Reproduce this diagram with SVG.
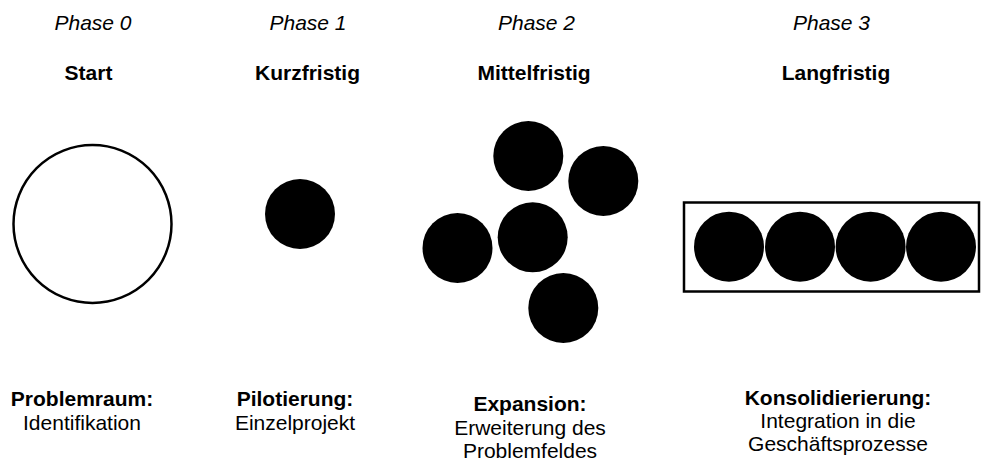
<svg xmlns="http://www.w3.org/2000/svg" width="982" height="461" viewBox="0 0 982 461">
<style>
text{font-family:"Liberation Sans",Arial,sans-serif;font-size:21px;fill:#000;text-anchor:middle}
.ph{font-style:italic}
.b{font-weight:bold}
.dot{fill:#000}
</style>
<rect width="982" height="461" fill="#fff"/>
<g id="phase0">
<text class="ph" x="93" y="30">Phase 0</text>
<text class="b" x="88.5" y="80">Start</text>
<circle cx="92.5" cy="224" r="79" fill="none" stroke="#000" stroke-width="2.5"/>
<text class="b" x="82" y="406">Problemraum:</text>
<text x="82" y="430">Identifikation</text>
</g>
<g id="phase1">
<text class="ph" x="308" y="30">Phase 1</text>
<text class="b" x="307.5" y="80">Kurzfristig</text>
<circle class="dot" cx="300" cy="214" r="35"/>
<text class="b" x="295" y="406">Pilotierung:</text>
<text x="295" y="430">Einzelprojekt</text>
</g>
<g id="phase2">
<text class="ph" x="536.5" y="30">Phase 2</text>
<text class="b" x="534" y="80">Mittelfristig</text>
<circle class="dot" cx="528.3" cy="156" r="35"/>
<circle class="dot" cx="603.3" cy="181" r="35"/>
<circle class="dot" cx="457.5" cy="248" r="35"/>
<circle class="dot" cx="532.7" cy="237.3" r="35"/>
<circle class="dot" cx="563.3" cy="308" r="35"/>
<text class="b" x="530" y="411">Expansion:</text>
<text x="530" y="435">Erweiterung des</text>
<text x="530" y="458">Problemfeldes</text>
</g>
<g id="phase3">
<text class="ph" x="831.5" y="30">Phase 3</text>
<text class="b" x="836" y="80">Langfristig</text>
<rect x="684" y="202.5" width="295" height="89" fill="none" stroke="#000" stroke-width="2.5"/>
<circle class="dot" cx="729" cy="246.7" r="35"/>
<circle class="dot" cx="800" cy="246.7" r="35"/>
<circle class="dot" cx="870.6" cy="246.7" r="35"/>
<circle class="dot" cx="941" cy="246.7" r="35"/>
<text class="b" x="838" y="405">Konsolidierierung:</text>
<text x="838" y="428">Integration in die</text>
<text x="838" y="451">Geschäftsprozesse</text>
</g>
<g id="connectors"></g>
</svg>
